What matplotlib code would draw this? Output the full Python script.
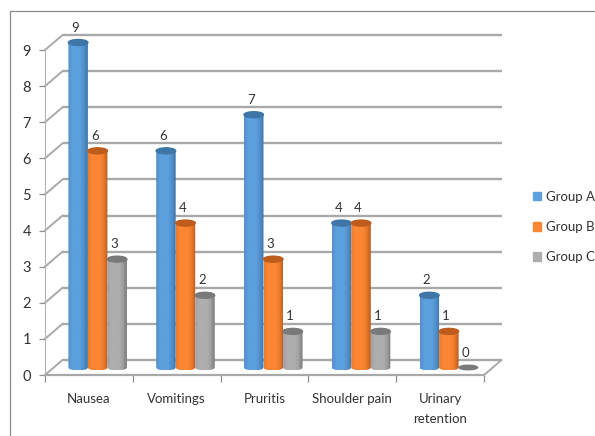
import numpy as np
import matplotlib.pyplot as plt
from matplotlib.colors import LinearSegmentedColormap
from matplotlib.lines import Line2D
from matplotlib.patches import Ellipse, Patch, Polygon

categories = ['Nausea', 'Vomitings', 'Pruritis', 'Shoulder pain', 'Urinary\nretention']
group_a = [9, 6, 7, 4, 2]
group_b = [6, 4, 3, 4, 1]
group_c = [3, 2, 1, 1, 0]
series_names = ['Group A', 'Group B', 'Group C']
y_ticks = list(range(10))

W, H = 595, 436
plt.rcParams['font.family'] = 'Lato'
fig = plt.figure(figsize=(W / 100, H / 100), dpi=100)

# front plane: x 45-484 px, value 0 at 375 px, 36.1 px per unit
ax = fig.add_axes([45 / W, 1 - 375 / H, 439 / W, 361.1 / H])
ax.set_xlim(0, 5)
ax.set_ylim(0, 10)
ax.patch.set_alpha(0)

px_x = 5 / 439
px_y = 10 / 361.1
depth_x = 17.5 * px_x
depth_y = 15 * px_y
grid_col = '#a9a9a9'

# walls
for v in y_ticks:
    ax.plot([0, depth_x], [v, v + depth_y], color=grid_col, lw=1.4, clip_on=False, zorder=1)
    ax.plot([depth_x, 5 + depth_x], [v + depth_y, v + depth_y], color=grid_col, lw=1.7,
            clip_on=False, zorder=1, solid_capstyle='butt')
ax.plot([5, 5 + depth_x], [0, depth_y], color=grid_col, lw=1.4, clip_on=False, zorder=1)

# cylinders
width = 19.5 * px_x
ell_h = 3 * px_y
colors = [
    ('#3f76a8', '#5da0de', '#5090cb', '#3f76a8'),
    ('#b9581a', '#fb8633', '#ea7a2d', '#bd5c1c'),
    ('#777777', '#aeaeae', '#a0a0a0', '#7a7a7a'),
]
t = np.linspace(0, np.pi, 40)
for s, values in enumerate([group_a, group_b, group_c]):
    edge, light, mid, top = colors[s]
    cmap = LinearSegmentedColormap.from_list('cyl', [mid, light, light, light, mid, edge])
    grad = np.linspace(0, 1, 64).reshape(1, -1)
    for i, val in enumerate(values):
        cx = i + 0.5 + depth_x / 2 + (s - 1) * width
        base = depth_y / 2
        if val == 0:
            ax.add_patch(Ellipse((cx, base), width * 0.95, ell_h * 1.5, color=top, zorder=3, clip_on=False))
            continue
        y_top = val + base
        low = np.c_[cx - width / 2 * np.cos(t), base - ell_h * np.sin(t)]
        high = np.c_[cx + width / 2 * np.cos(t), y_top + ell_h * np.sin(t)]
        body = Polygon(np.r_[low, high], closed=True, transform=ax.transData, fc='none', ec='none')
        ax.add_patch(body)
        im = ax.imshow(grad, cmap=cmap, aspect='auto', zorder=3 + s * 0.1,
                       extent=(cx - width / 2, cx + width / 2, base - ell_h, y_top + ell_h))
        im.set_clip_path(body)
        ax.add_patch(Ellipse((cx, y_top), width, ell_h * 2, color=top, zorder=3.05 + s * 0.1, clip_on=False))

# imshow resets the limits
ax.set_xlim(0, 5)
ax.set_ylim(0, 10)

# value labels
for s, values in enumerate([group_a, group_b, group_c]):
    for i, val in enumerate(values):
        cx = i + 0.5 + depth_x / 2 + (s - 1) * width
        ax.text(cx - 3 * px_x, val + depth_y / 2 + 15 * px_y, str(val), ha='center', va='center',
                fontsize=9.5, color='#333333', zorder=6, clip_on=False)

for side in ['top', 'right']:
    ax.spines[side].set_visible(False)
ax.spines['left'].set_color('#b5b5b5')
ax.spines['left'].set_linewidth(0.8)
ax.spines['left'].set_bounds(0, 9)
ax.spines['bottom'].set_color(grid_col)
ax.spines['bottom'].set_linewidth(1.6)
ax.set_yticks(y_ticks)
ax.set_xticks(range(6))
ax.set_xticklabels([])
ax.set_xticks(np.arange(5) + 0.5, categories, minor=True, linespacing=1.8, va='top')
ax.tick_params(axis='x', which='major', length=5, color='#909090', width=0.9)
ax.tick_params(axis='x', which='minor', length=0, pad=13, labelsize=9.5, labelcolor='#333333')
ax.tick_params(axis='y', length=4, color='#909090', width=0.9, pad=6, labelsize=10.5, labelcolor='#333333')

handles = [Patch(color=c[1]) for c in colors]
ax.legend(handles, series_names, loc='center left', bbox_to_anchor=(521 / W, 1 - 227 / H),
          bbox_transform=fig.transFigure, frameon=False, fontsize=9.5, handlelength=0.62,
          handleheight=0.62, handletextpad=0.4, labelspacing=1.38, labelcolor='#333333')

# only the top and left edges of the outer frame show
fig.add_artist(Line2D([9.5 / W, 9.5 / W, 1], [0, 1 - 11.5 / H, 1 - 11.5 / H],
                      transform=fig.transFigure, color='#8a8a8a', lw=0.9))

fig.savefig('out.png', dpi=100)
